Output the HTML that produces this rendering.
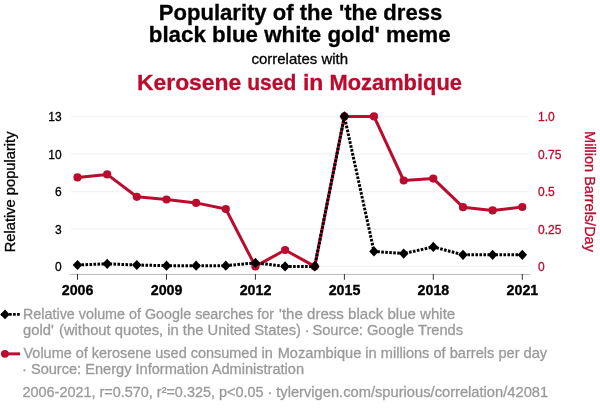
<!DOCTYPE html>
<html><head><meta charset="utf-8"><title>Spurious correlation</title>
<style>
html,body{margin:0;padding:0;background:#fff;}
svg{display:block;font-family:"Liberation Sans",sans-serif;}
</style></head><body>
<svg width="600" height="414" viewBox="0 0 600 414">
<rect width="600" height="414" fill="#fff"/>
<text y="19.5" font-size="22px" font-weight="bold" fill="#000" stroke="#000" stroke-width="0.3">
<tspan x="158.80" textLength="283.44" lengthAdjust="spacingAndGlyphs">Popularity of the &#x27;the dress</tspan>
</text>
<text y="42.0" font-size="22px" font-weight="bold" fill="#000" stroke="#000" stroke-width="0.3">
<tspan x="148.79" textLength="301.84" lengthAdjust="spacingAndGlyphs">black blue white gold&#x27; meme</tspan>
</text>
<text y="63.5" font-size="14.6px" font-weight="normal" fill="#000" stroke="#000" stroke-width="0.3">
<tspan x="251.47" textLength="96.55" lengthAdjust="spacingAndGlyphs">correlates with</tspan>
</text>
<text y="89.5" font-size="22px" font-weight="bold" fill="#ba0c2f" stroke="#ba0c2f" stroke-width="0.3">
<tspan x="136.96" textLength="104.37" lengthAdjust="spacingAndGlyphs">Kerosene</tspan> 
<tspan x="247.24" textLength="49.05" lengthAdjust="spacingAndGlyphs">used</tspan> 
<tspan x="302.91" textLength="20.42" lengthAdjust="spacingAndGlyphs">in</tspan> 
<tspan x="329.51" textLength="132.42" lengthAdjust="spacingAndGlyphs">Mozambique</tspan>
</text>
<text y="318.5" font-size="14.6px" font-weight="normal" fill="#9a9a9a" stroke="#9a9a9a" stroke-width="0.3">
<tspan x="23.02" textLength="251.10" lengthAdjust="spacingAndGlyphs">Relative volume of Google searches for</tspan> 
<tspan x="279.07" textLength="176.17" lengthAdjust="spacingAndGlyphs">&#x27;the dress black blue white</tspan>
</text>
<text y="334.8" font-size="14.6px" font-weight="normal" fill="#9a9a9a" stroke="#9a9a9a" stroke-width="0.3">
<tspan x="23.09" textLength="30.71" lengthAdjust="spacingAndGlyphs">gold&#x27;</tspan> 
<tspan x="58.99" textLength="242.04" lengthAdjust="spacingAndGlyphs">(without quotes, in the United States)</tspan> 
<tspan x="304.80" textLength="4.88" lengthAdjust="spacingAndGlyphs">·</tspan> 
<tspan x="312.40" textLength="150.69" lengthAdjust="spacingAndGlyphs">Source: Google Trends</tspan>
</text>
<text y="358.4" font-size="14.6px" font-weight="normal" fill="#9a9a9a" stroke="#9a9a9a" stroke-width="0.3">
<tspan x="23.50" textLength="249.20" lengthAdjust="spacingAndGlyphs">Volume of kerosene used consumed in</tspan> 
<tspan x="277.70" textLength="269.40" lengthAdjust="spacingAndGlyphs">Mozambique in millions of barrels per day</tspan>
</text>
<text y="374.25" font-size="14.6px" font-weight="normal" fill="#9a9a9a" stroke="#9a9a9a" stroke-width="0.3">
<tspan x="22.00" textLength="282.08" lengthAdjust="spacingAndGlyphs">· Source: Energy Information Administration</tspan>
</text>
<text y="397.25" font-size="14.6px" font-weight="normal" fill="#9a9a9a" stroke="#9a9a9a" stroke-width="0.3">
<tspan x="22.51" textLength="249.82" lengthAdjust="spacingAndGlyphs">2006-2021, r=0.570, r²=0.325, p&lt;0.05 ·</tspan> 
<tspan x="276.25" textLength="271.90" lengthAdjust="spacingAndGlyphs">tylervigen.com/spurious/correlation/42081</tspan>
</text>
<line x1="71" x2="528" y1="116.55" y2="116.55" stroke="#f3f3f3" stroke-width="1.3"/>
<line x1="71" x2="528" y1="154.05" y2="154.05" stroke="#f3f3f3" stroke-width="1.3"/>
<line x1="71" x2="528" y1="191.5" y2="191.5" stroke="#f3f3f3" stroke-width="1.3"/>
<line x1="71" x2="528" y1="228.95" y2="228.95" stroke="#f3f3f3" stroke-width="1.3"/>
<line x1="71" x2="528" y1="266.45" y2="266.45" stroke="#f3f3f3" stroke-width="1.3"/>
<line x1="70.2" x2="529.8" y1="274.4" y2="274.4" stroke="#b8b8b8" stroke-width="1"/>
<line x1="77.5" x2="77.5" y1="274" y2="279.8" stroke="#333" stroke-width="1"/>
<text x="77.6" y="294.6" font-size="14.25px" font-weight="bold" text-anchor="middle" fill="#000" stroke="#000" stroke-width="0.3">2006</text>
<line x1="166.5" x2="166.5" y1="274" y2="279.8" stroke="#333" stroke-width="1"/>
<text x="166.6" y="294.6" font-size="14.25px" font-weight="bold" text-anchor="middle" fill="#000" stroke="#000" stroke-width="0.3">2009</text>
<line x1="255.4" x2="255.4" y1="274" y2="279.8" stroke="#333" stroke-width="1"/>
<text x="255.5" y="294.6" font-size="14.25px" font-weight="bold" text-anchor="middle" fill="#000" stroke="#000" stroke-width="0.3">2012</text>
<line x1="344.4" x2="344.4" y1="274" y2="279.8" stroke="#333" stroke-width="1"/>
<text x="344.5" y="294.6" font-size="14.25px" font-weight="bold" text-anchor="middle" fill="#000" stroke="#000" stroke-width="0.3">2015</text>
<line x1="433.3" x2="433.3" y1="274" y2="279.8" stroke="#333" stroke-width="1"/>
<text x="433.4" y="294.6" font-size="14.25px" font-weight="bold" text-anchor="middle" fill="#000" stroke="#000" stroke-width="0.3">2018</text>
<line x1="522.3" x2="522.3" y1="274" y2="279.8" stroke="#333" stroke-width="1"/>
<text x="522.4" y="294.6" font-size="14.25px" font-weight="bold" text-anchor="middle" fill="#000" stroke="#000" stroke-width="0.3">2021</text>
<text x="61.6" y="120.85" font-size="12px" text-anchor="end" fill="#000" stroke="#000" stroke-width="0.3">13</text>
<text x="61.6" y="158.85" font-size="12px" text-anchor="end" fill="#000" stroke="#000" stroke-width="0.3">10</text>
<text x="61.6" y="195.85" font-size="12px" text-anchor="end" fill="#000" stroke="#000" stroke-width="0.3">6</text>
<text x="61.6" y="233.85" font-size="12px" text-anchor="end" fill="#000" stroke="#000" stroke-width="0.3">3</text>
<text x="61.6" y="270.85" font-size="12px" text-anchor="end" fill="#000" stroke="#000" stroke-width="0.3">0</text>
<text x="538" y="120.85" font-size="12px" text-anchor="start" fill="#ba0c2f" stroke="#ba0c2f" stroke-width="0.3">1.0</text>
<text x="538" y="158.85" font-size="12px" text-anchor="start" fill="#ba0c2f" stroke="#ba0c2f" stroke-width="0.3">0.75</text>
<text x="538" y="195.85" font-size="12px" text-anchor="start" fill="#ba0c2f" stroke="#ba0c2f" stroke-width="0.3">0.5</text>
<text x="538" y="233.85" font-size="12px" text-anchor="start" fill="#ba0c2f" stroke="#ba0c2f" stroke-width="0.3">0.25</text>
<text x="538" y="270.85" font-size="12px" text-anchor="start" fill="#ba0c2f" stroke="#ba0c2f" stroke-width="0.3">0</text>
<text transform="translate(14.6,191.9) rotate(-90)" font-size="14.7px" text-anchor="middle" fill="#000" stroke="#000" stroke-width="0.3">Relative popularity</text>
<text transform="translate(584.5,191.5) rotate(90)" font-size="14.5px" text-anchor="middle" fill="#ba0c2f" stroke="#ba0c2f" stroke-width="0.3">Million Barrels/Day</text>
<polyline points="77.5,177.4 107.2,174.4 136.8,196.8 166.5,199.5 196.1,202.9 225.8,209.0 255.4,266.4 285.1,250.0 314.7,266.4 344.4,116.4 374.0,116.4 403.7,180.5 433.3,178.6 463.0,207.2 492.6,210.4 522.3,207.0" fill="none" stroke="#ba0c2f" stroke-width="3" stroke-linejoin="round"/>
<circle cx="77.5" cy="177.4" r="4.1" fill="#ba0c2f"/>
<circle cx="107.2" cy="174.4" r="4.1" fill="#ba0c2f"/>
<circle cx="136.8" cy="196.8" r="4.1" fill="#ba0c2f"/>
<circle cx="166.5" cy="199.5" r="4.1" fill="#ba0c2f"/>
<circle cx="196.1" cy="202.9" r="4.1" fill="#ba0c2f"/>
<circle cx="225.8" cy="209.0" r="4.1" fill="#ba0c2f"/>
<circle cx="255.4" cy="266.4" r="4.1" fill="#ba0c2f"/>
<circle cx="285.1" cy="250.0" r="4.1" fill="#ba0c2f"/>
<circle cx="314.7" cy="266.4" r="4.1" fill="#ba0c2f"/>
<circle cx="344.4" cy="116.4" r="4.1" fill="#ba0c2f"/>
<circle cx="374.0" cy="116.4" r="4.1" fill="#ba0c2f"/>
<circle cx="403.7" cy="180.5" r="4.1" fill="#ba0c2f"/>
<circle cx="433.3" cy="178.6" r="4.1" fill="#ba0c2f"/>
<circle cx="463.0" cy="207.2" r="4.1" fill="#ba0c2f"/>
<circle cx="492.6" cy="210.4" r="4.1" fill="#ba0c2f"/>
<circle cx="522.3" cy="207.0" r="4.1" fill="#ba0c2f"/>
<polyline points="77.5,265.0 107.2,263.8 136.8,265.0 166.5,265.7 196.1,265.7 225.8,265.7 255.4,262.9 285.1,266.4 314.7,266.4 344.4,116.4 374.0,251.4 403.7,253.6 433.3,246.9 463.0,254.8 492.6,254.8 522.3,254.8" fill="none" stroke="#000" stroke-width="3" stroke-dasharray="2.6 1.4" stroke-linejoin="round"/>
<path d="M77.5,259.9 L82.3,265.0 L77.5,270.1 L72.7,265.0 Z" fill="#000"/>
<path d="M107.2,258.7 L112.0,263.8 L107.2,268.9 L102.4,263.8 Z" fill="#000"/>
<path d="M136.8,259.9 L141.6,265.0 L136.8,270.1 L132.0,265.0 Z" fill="#000"/>
<path d="M166.5,260.6 L171.3,265.7 L166.5,270.8 L161.7,265.7 Z" fill="#000"/>
<path d="M196.1,260.6 L200.9,265.7 L196.1,270.8 L191.3,265.7 Z" fill="#000"/>
<path d="M225.8,260.6 L230.6,265.7 L225.8,270.8 L221.0,265.7 Z" fill="#000"/>
<path d="M255.4,257.8 L260.2,262.9 L255.4,268.0 L250.6,262.9 Z" fill="#000"/>
<path d="M285.1,261.3 L289.9,266.4 L285.1,271.5 L280.3,266.4 Z" fill="#000"/>
<path d="M314.7,261.3 L319.5,266.4 L314.7,271.5 L309.9,266.4 Z" fill="#000"/>
<path d="M344.4,111.3 L349.2,116.4 L344.4,121.5 L339.6,116.4 Z" fill="#000"/>
<path d="M374.0,246.3 L378.8,251.4 L374.0,256.5 L369.2,251.4 Z" fill="#000"/>
<path d="M403.7,248.5 L408.5,253.6 L403.7,258.7 L398.9,253.6 Z" fill="#000"/>
<path d="M433.3,241.8 L438.1,246.9 L433.3,252.0 L428.5,246.9 Z" fill="#000"/>
<path d="M463.0,249.7 L467.8,254.8 L463.0,259.9 L458.2,254.8 Z" fill="#000"/>
<path d="M492.6,249.7 L497.4,254.8 L492.6,259.9 L487.8,254.8 Z" fill="#000"/>
<path d="M522.3,249.7 L527.1,254.8 L522.3,259.9 L517.5,254.8 Z" fill="#000"/>
<line x1="1.07" x2="20" y1="314.4" y2="314.4" stroke="#000" stroke-width="2.9" stroke-dasharray="2.67 1.33"/>
<path d="M5.0,309.4 L9.8,314.4 L5.0,319.3 L0.2,314.4 Z" fill="#000"/>
<line x1="5" x2="20" y1="353.85" y2="353.85" stroke="#ba0c2f" stroke-width="2.95"/>
<circle cx="4.9" cy="353.85" r="3.95" fill="#ba0c2f"/>
</svg>
</body></html>
